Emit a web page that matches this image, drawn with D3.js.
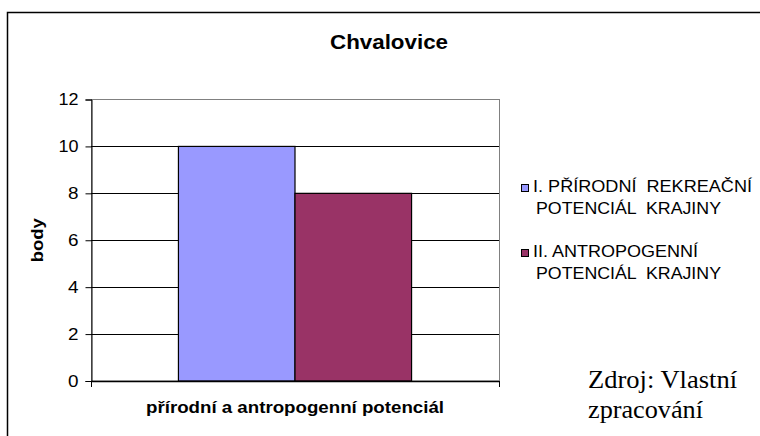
<!DOCTYPE html>
<html>
<head>
<meta charset="utf-8">
<script src="https://cdn.jsdelivr.net/npm/d3@7"></script>
<style>
  body { margin: 0; background: #fff; }
  text { white-space: pre; }
</style>
</head>
<body>
<div id="chart"></div>
<script>
// chart values
const categories = ["přírodní a antropogenní potenciál"];
const series = ["I. PŘÍRODNÍ  REKREAČNÍ POTENCIÁL  KRAJINY", "II. ANTROPOGENNÍ POTENCIÁL  KRAJINY"];
const legendLines = [["I. PŘÍRODNÍ  REKREAČNÍ", "POTENCIÁL  KRAJINY"], ["II. ANTROPOGENNÍ", "POTENCIÁL  KRAJINY"]];
const values = [10, 8];
const colors = ["#9999ff", "#993366"];
const yTicks = [0, 2, 4, 6, 8, 10, 12];
const title = "Chvalovice";
const yTitle = "body";
const source = ["Zdroj: Vlastní", "zpracování"];

const W = 760, H = 436;
const plot = {left: 91, right: 499, top: 99.5, bottom: 381};

const svg = d3.select("#chart").append("svg")
    .attr("width", W)
    .attr("height", H)
    .style("font-family", "'Liberation Sans', Arial, sans-serif");

// outer chart border (right and bottom are cut off)
svg.append("path")
    .attr("d", `M7.5,${H}V12.5H${W}`)
    .attr("fill", "none")
    .attr("stroke", "#000")
    .attr("stroke-width", 1.5);

const y = d3.scaleLinear().domain([0, 12]).range([plot.bottom, plot.top]);
const x0 = d3.scaleBand().domain(categories).range([plot.left, plot.right]);
const x1 = d3.scaleBand().domain(series).range([0, x0.bandwidth()]).paddingInner(0).paddingOuter(0.75);

// plot area border (gray)
svg.append("rect")
    .attr("x", plot.left + 0.5).attr("y", plot.top)
    .attr("width", plot.right - plot.left).attr("height", plot.bottom - plot.top)
    .attr("fill", "none").attr("stroke", "#808080");

// gridlines
svg.append("g")
    .selectAll("line")
    .data(yTicks.filter(d => d > 0 && d < 12))
    .enter().append("line")
    .attr("x1", plot.left).attr("x2", plot.right)
    .attr("y1", d => Math.round(y(d)) + 0.5).attr("y2", d => Math.round(y(d)) + 0.5)
    .attr("stroke", "#000");

// bars
svg.append("g")
    .selectAll("rect")
    .data(values)
    .enter().append("rect")
    .attr("x", (d, i) => x0(categories[0]) + x1(series[i]))
    .attr("y", d => y(d))
    .attr("width", x1.bandwidth())
    .attr("height", d => plot.bottom - y(d))
    .attr("fill", (d, i) => colors[i])
    .attr("stroke", "#000")
    .attr("stroke-width", 1.2);

// y axis
const yAxis = svg.append("g")
    .attr("transform", `translate(${plot.left + 0.5},0)`)
    .call(d3.axisLeft(y).tickValues(yTicks).tickSize(6).tickPadding(7));
yAxis.select(".domain").attr("stroke", "#000");
yAxis.selectAll("text")
    .attr("font-size", 16)
    .attr("font-family", "'Liberation Sans', Arial, sans-serif")
    .attr("fill", "#000")
    .attr("textLength", d => d >= 10 ? 20 : 10.5)
    .attr("lengthAdjust", "spacingAndGlyphs");

// x axis
svg.append("line")
    .attr("x1", plot.left).attr("x2", plot.right)
    .attr("y1", plot.bottom + 0.5).attr("y2", plot.bottom + 0.5)
    .attr("stroke", "#000").attr("stroke-width", 1.5);
svg.append("g")
    .selectAll("line")
    .data([plot.left, plot.right])
    .enter().append("line")
    .attr("x1", d => d + 0.5).attr("x2", d => d + 0.5)
    .attr("y1", plot.bottom).attr("y2", plot.bottom + 6)
    .attr("stroke", "#000");

// title
svg.append("text")
    .attr("x", 389).attr("y", 49)
    .attr("text-anchor", "middle")
    .attr("font-size", 21).attr("font-weight", "bold")
    .attr("textLength", 118).attr("lengthAdjust", "spacingAndGlyphs")
    .text(title);

// axis titles
svg.append("text")
    .attr("transform", `translate(43,${(plot.top + plot.bottom) / 2}) rotate(-90)`)
    .attr("text-anchor", "middle")
    .attr("font-size", 16).attr("font-weight", "bold")
    .attr("textLength", 44).attr("lengthAdjust", "spacingAndGlyphs")
    .text(yTitle);

svg.append("text")
    .attr("x", (plot.left + plot.right) / 2).attr("y", 413)
    .attr("text-anchor", "middle")
    .attr("font-size", 16).attr("font-weight", "bold")
    .attr("textLength", 298).attr("lengthAdjust", "spacingAndGlyphs")
    .text(categories[0]);

// legend
const legendTop = [184, 249];
const lineWidths = [[219, 185], [165, 185]];
const legend = svg.append("g");
legendLines.forEach((lines, i) => {
    legend.append("rect")
        .attr("x", 521.5).attr("y", legendTop[i] + 0.5)
        .attr("width", 7).attr("height", 7)
        .attr("fill", colors[i]).attr("stroke", "#000");
    lines.forEach((t, j) => {
        legend.append("text")
            .attr("x", j === 0 ? 533 : 536).attr("y", legendTop[i] + 8 + j * 21.5)
            .attr("font-size", 16)
            .attr("textLength", lineWidths[i][j]).attr("lengthAdjust", "spacingAndGlyphs")
            .text(t);
    });
});

// source note
svg.append("g")
    .selectAll("text")
    .data(source)
    .enter().append("text")
    .attr("x", 588).attr("y", (d, i) => 388 + i * 30)
    .attr("font-family", "'Liberation Serif', 'Times New Roman', serif")
    .attr("font-size", 26)
    .attr("textLength", (d, i) => i === 0 ? 149 : 115).attr("lengthAdjust", "spacingAndGlyphs")
    .text(d => d);
</script>
</body>
</html>
